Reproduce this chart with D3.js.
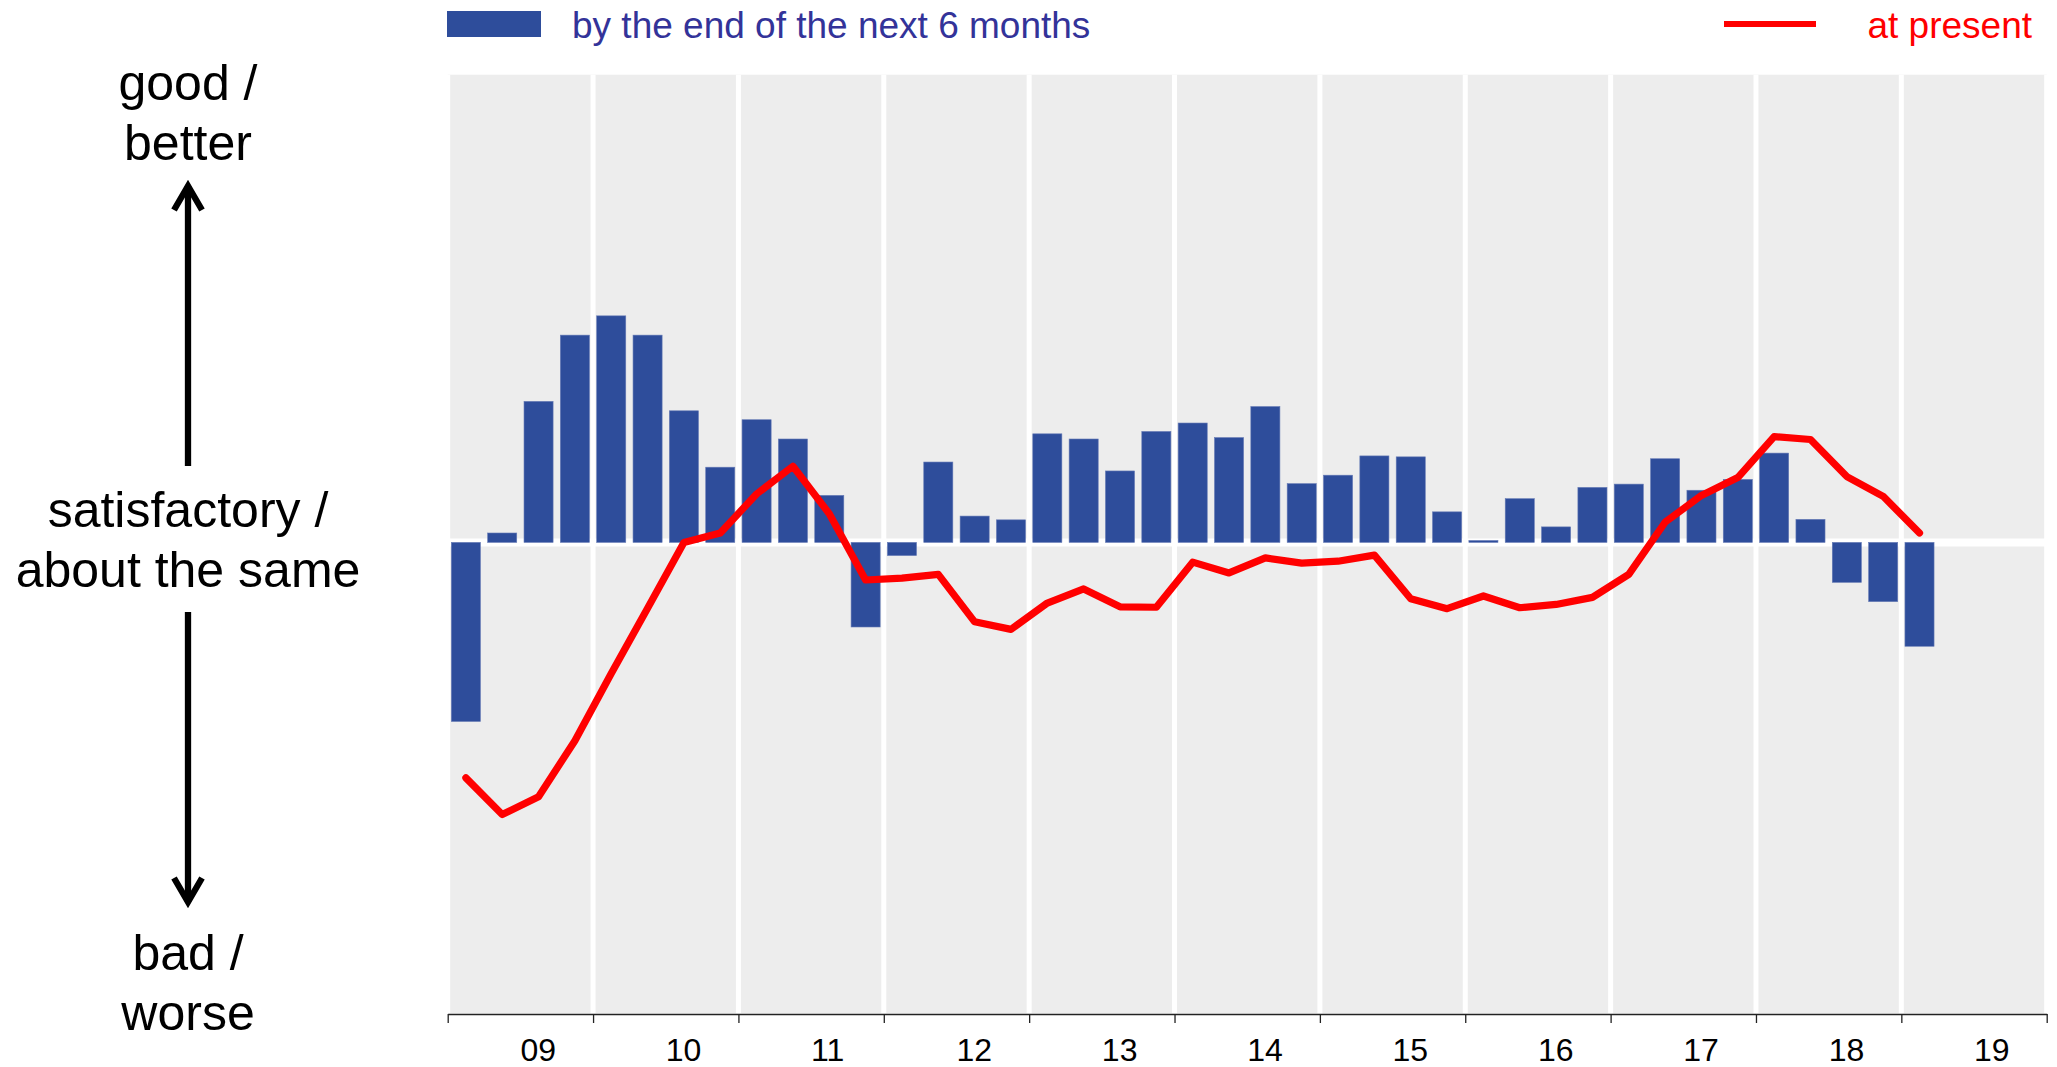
<!DOCTYPE html>
<html>
<head>
<meta charset="utf-8">
<script src="https://cdn.jsdelivr.net/npm/d3@7"></script>
<style>
  body { margin: 0; background: #fff; }
  text { font-family: "Liberation Sans", Arial, sans-serif; }
</style>
</head>
<body>
<svg width="2057" height="1067"></svg>
<script>
// year labels on the axis, quarters inside each year
var yearLabels = ["09", "10", "11", "12", "13", "14", "15", "16", "17", "18", "19"];
var years = [2009, 2010, 2011, 2012, 2013, 2014, 2015, 2016, 2017, 2018, 2019];
var quarterNames = ["Q1", "Q2", "Q3", "Q4"];

// expectations: by the end of the next 6 months (bars), 2009Q1 .. 2019Q1
var nextSixMonths = [
  -38.1, 2.0, 30.0, 44.1,
  48.2, 44.1, 28.0, 16.0,
  26.1, 22.0, 10.0, -18.0,
  -2.8, 17.1, 5.6, 4.8,
  23.1, 22.0, 15.2, 23.6,
  25.4, 22.3, 28.9, 12.5,
  14.3, 18.4, 18.2, 6.5,
  0.4, 9.3, 3.3, 11.7,
  12.4, 17.8, 11.1, 13.4,
  19.0, 4.9, -8.5, -12.6,
  -22.1
];

// assessment at present (line), 2009Q1 .. 2019Q1
var atPresent = [
  -50.1, -57.9, -54.1, -42.2,
  -27.9, -14.0, 0.0, 2.0,
  10.3, 16.2, 6.1, -8.0,
  -7.6, -6.8, -16.9, -18.5,
  -12.9, -9.9, -13.7, -13.8,
  -4.2, -6.5, -3.3, -4.4,
  -4.0, -2.7, -12.0, -14.1,
  -11.4, -13.9, -13.2, -11.7,
  -6.8, 4.3, 10.0, 13.8,
  22.5, 21.9, 14.0, 9.8,
  2.0
];

var sideLabels = [
  ["good /", "better"],
  ["satisfactory /", "about the same"],
  ["bad /", "worse"]
];

var svg = d3.select("svg"),
    plotLeft = 447.7, plotRight = 2046.7,
    plotTop = 74.7, plotBottom = 1013.5;

var quarters = years.flatMap(function(y) {
  return quarterNames.map(function(q) { return y + q; });
});

var x = d3.scaleBand()
  .domain(quarters)
  .range([plotLeft, plotRight])
  .paddingInner(0.2)
  .paddingOuter(0.1);

var xYear = d3.scaleLinear()
  .domain([2009, 2020])
  .range([plotLeft, plotRight]);

var y = d3.scaleLinear()
  .domain([-100, 100])
  .range([542.4 + 470, 542.4 - 470]);

// plot background
svg.append("rect")
  .attr("x", plotLeft)
  .attr("y", plotTop)
  .attr("width", plotRight - plotLeft)
  .attr("height", plotBottom - plotTop)
  .attr("fill", "#ededed");

// white year separators
svg.append("g")
  .selectAll("line")
  .data(d3.range(2009, 2021))
  .enter().append("line")
  .attr("x1", function(d) { return xYear(d); })
  .attr("x2", function(d) { return xYear(d); })
  .attr("y1", plotTop)
  .attr("y2", plotBottom)
  .attr("stroke", "#fff")
  .attr("stroke-width", 5);

// white zero line
svg.append("line")
  .attr("x1", plotLeft)
  .attr("x2", plotRight)
  .attr("y1", y(0))
  .attr("y2", y(0))
  .attr("stroke", "#fff")
  .attr("stroke-width", 8);

// bars
svg.append("g")
  .selectAll("rect")
  .data(nextSixMonths)
  .enter().append("rect")
  .attr("x", function(d, i) { return x(quarters[i]); })
  .attr("y", function(d) { return y(Math.max(0, d)); })
  .attr("width", x.bandwidth())
  .attr("height", function(d) { return Math.abs(y(d) - y(0)); })
  .attr("fill", "#2e4d9b")
  .attr("stroke", "#6479b5")
  .attr("stroke-width", 0.6);

// line
var line = d3.line()
  .x(function(d, i) { return x(quarters[i]) + x.bandwidth() / 2; })
  .y(function(d) { return y(d); });

svg.append("path")
  .datum(atPresent)
  .attr("fill", "none")
  .attr("stroke", "#ff0000")
  .attr("stroke-width", 7.2)
  .attr("stroke-linejoin", "round")
  .attr("stroke-linecap", "round")
  .attr("d", line);

// x axis: ticks at year boundaries, labels in between
var axis = svg.append("g")
  .attr("transform", "translate(0," + 1014 + ")")
  .call(d3.axisBottom(xYear)
    .tickValues(d3.range(2009, 2021))
    .tickFormat("")
    .tickSize(9)
    .tickSizeOuter(0));
axis.select(".domain").attr("stroke", "#222").attr("stroke-width", 1.5);
axis.selectAll(".tick line").attr("stroke", "#222").attr("stroke-width", 1.3);

svg.append("g")
  .selectAll("text")
  .data(yearLabels)
  .enter().append("text")
  .attr("x", function(d, i) { return (xYear(years[i]) + xYear(years[i] + 1)) / 2; })
  .attr("y", 1061)
  .attr("font-size", 32)
  .attr("fill", "#000")
  .text(function(d) { return d; });

// legend
svg.append("rect")
  .attr("x", 447).attr("y", 11)
  .attr("width", 94).attr("height", 26)
  .attr("fill", "#2e4d9b");
svg.append("text")
  .attr("x", 572).attr("y", 37.5)
  .attr("font-size", 37)
  .attr("fill", "#333399")
  .text("by the end of the next 6 months");

svg.append("line")
  .attr("x1", 1724).attr("x2", 1816)
  .attr("y1", 24).attr("y2", 24)
  .attr("stroke", "#ff0000")
  .attr("stroke-width", 6);
svg.append("text")
  .attr("x", 2032).attr("y", 37.5)
  .attr("text-anchor", "end")
  .attr("font-size", 37)
  .attr("fill", "#ff0000")
  .text("at present");

// left side scale description
var sideBaselines = [[100, 160], [527, 587], [970, 1030]];
var side = svg.append("g").attr("font-size", 50).attr("text-anchor", "middle").attr("fill", "#000");
sideLabels.forEach(function(pair, k) {
  pair.forEach(function(t, j) {
    side.append("text")
      .attr("x", 188)
      .attr("y", sideBaselines[k][j])
      .text(t);
  });
});

// arrows
var ax = 188;
svg.append("line")
  .attr("x1", ax).attr("x2", ax)
  .attr("y1", 186).attr("y2", 466)
  .attr("stroke", "#000").attr("stroke-width", 6.3);
svg.append("path")
  .attr("d", "M" + (ax - 14) + "," + 210 + "L" + ax + "," + 186 + "L" + (ax + 14) + "," + 210)
  .attr("fill", "none").attr("stroke", "#000").attr("stroke-width", 6.3);

svg.append("line")
  .attr("x1", ax).attr("x2", ax)
  .attr("y1", 612).attr("y2", 902)
  .attr("stroke", "#000").attr("stroke-width", 6.3);
svg.append("path")
  .attr("d", "M" + (ax - 14) + "," + 878 + "L" + ax + "," + 902 + "L" + (ax + 14) + "," + 878)
  .attr("fill", "none").attr("stroke", "#000").attr("stroke-width", 6.3);
</script>
</body>
</html>
